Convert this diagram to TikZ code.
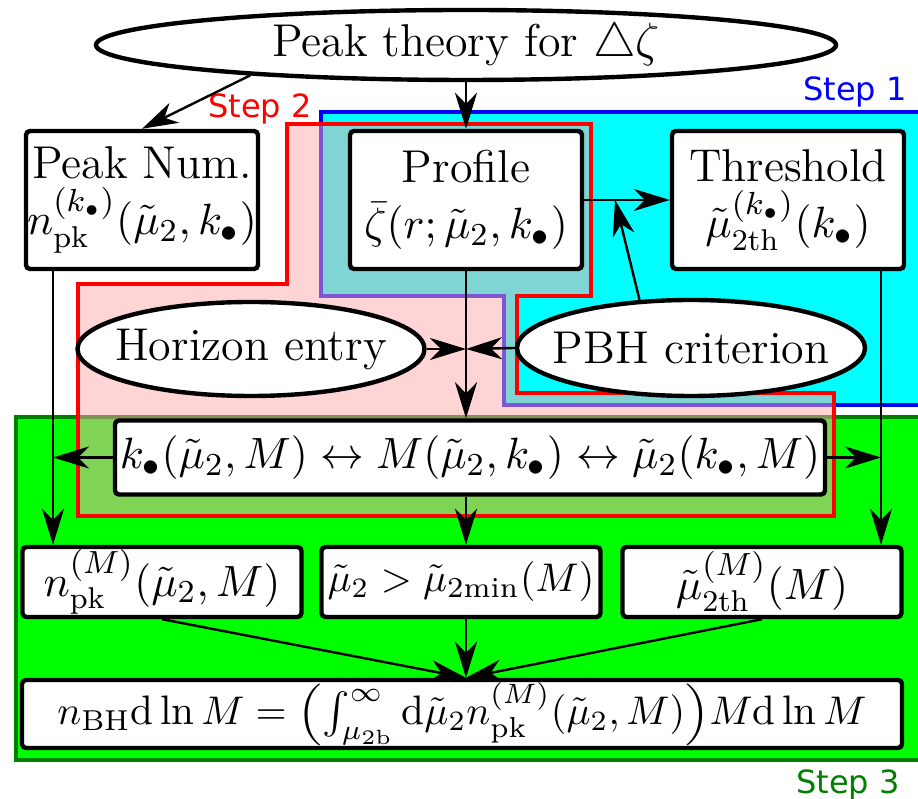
\documentclass[tikz,border=0pt]{standalone}
\usepackage{amsmath}
\usepackage{amsfonts}
\usepackage{graphicx}
\usepackage{fontspec}
\usepackage{tikz}
\usetikzlibrary{shapes.geometric, arrows.meta}
\newfontfamily\stepfont{DejaVu Sans}
\definecolor{StepCyan}{RGB}{0, 255, 255}
\definecolor{StepLime}{RGB}{0, 255, 0}
\definecolor{StepGreen}{RGB}{0, 128, 0}
\definecolor{StepPink}{RGB}{255, 170, 170}
\newcommand{\fml}[2][10.75]{{\fontsize{#1}{13}\selectfont$#2$}}
\newcommand{\midparen}[1]{\vcenter{\hbox{\scalebox{1}[0.83]{$\Big#1$}}}}

\tikzset{
  box/.style={draw, line width=1.1pt, rounded corners=1pt, fill=white, align=center, inner sep=0pt},
  topbox/.style={box, minimum width=58pt, minimum height=34.5pt},
  rowbox/.style={box, minimum width=69.75pt, minimum height=17.5pt},
  oval/.style={ellipse, draw, line width=1.1pt, fill=white, inner xsep=-4pt, inner ysep=0pt},
  link/.style={line width=0.6pt, -{Stealth[length=9pt, width=5.5pt, inset=2.75pt]}},
  steplabel/.style={font=\stepfont\fontsize{8}{10}\selectfont}
}

\begin{document}
\begin{tikzpicture}[x=0.25pt, y=-0.25pt, font=\fontsize{11.5}{14}\selectfont]
  \useasboundingbox (0,0) rectangle (918,799);
  \clip (0,0) rectangle (918,799);
  % the three steps
  \draw[blue, line width=0.8pt, fill=StepCyan] (321,112) -- (930,112) -- (930,405) -- (504,405) -- (504,296) -- (321,296) -- cycle;
  \draw[StepGreen, line width=0.8pt, fill=StepLime] (16,417) rectangle (930,760);
  \draw[red, line width=0.8pt, fill=StepPink, fill opacity=0.5] (287,124) -- (591,124) -- (591,296) -- (517,296) -- (517,393) -- (834,393) -- (834,516) -- (78,516) -- (78,284) -- (287,284) -- cycle;
  \node[steplabel, blue] (s1) at (855,92) {Step 1};
  \node[steplabel, red] (s2) at (260,109) {Step 2};
  \node[steplabel, StepGreen] (s3) at (848,785) {Step 3};

  \node[oval, minimum width=185pt, minimum height=17.5pt] (theory) at (466,45) {Peak theory for $\triangle\zeta$};
  \node[topbox] (peaknum) at (142,200) {Peak Num.\\ \fml{n_{\mathrm{pk}}^{(k_\bullet)}(\tilde\mu_2, k_\bullet)}};
  \node[topbox] (profile) at (466,200) {Profile\\ \fml{\bar\zeta(r; \tilde\mu_2, k_\bullet)}};
  \node[topbox] (thresh) at (788,200) {Threshold\\ \fml{\tilde\mu_{\mathrm{2th}}^{(k_\bullet)}(k_\bullet)}};
  \node[oval, minimum width=86.75pt, minimum height=23.5pt] (horizon) at (251,349) {Horizon entry};
  \node[oval, minimum width=87pt, minimum height=24pt] (pbh) at (691,348) {PBH criterion};
  \node[box, minimum width=177.5pt, minimum height=18.5pt] (conv) at (470,457.5) {\fml{k_\bullet(\tilde\mu_2, M) \leftrightarrow M(\tilde\mu_2, k_\bullet) \leftrightarrow \tilde\mu_2(k_\bullet, M)}};
  \node[rowbox] (nM) at (162,582) {\fml{n_{\mathrm{pk}}^{(M)}(\tilde\mu_2, M)}};
  \node[rowbox] (mumin) at (461,582) {\fml[10.3]{\tilde\mu_2 > \tilde\mu_{\mathrm{2min}}(M)}};
  \node[rowbox] (muth) at (762,582) {\fml{\tilde\mu_{\mathrm{2th}}^{(M)}(M)}};
  \node[box, minimum width=220pt, minimum height=17pt] (nbh) at (462,714) {\fml[10.3]{n_{\mathrm{BH}} \mathrm{d}\ln M = \mathopen{\midparen(}\int_{\mu_{\mathrm{2b}}}^\infty \mathrm{d}\tilde\mu_2 n_{\mathrm{pk}}^{(M)}(\tilde\mu_2, M)\mathclose{\midparen)} M \mathrm{d}\ln M}};

  \coordinate (jn) at (466,349);
  \coordinate (tip) at (615,200);
  \coordinate (pl) at (53,269);
  \coordinate (tr) at (881,269);

  \draw[link] (theory.188) -- (peaknum.north);
  \draw[link] (theory.south) -- (profile.north);
  \draw[link] (profile.east) -- (thresh.west);
  \draw[link] (pbh.137) -- (tip);
  \draw[link] (horizon.east) -- (jn);
  \draw[link] (pbh.west) -- (jn);
  \draw[link] (profile.south) -- (profile.south |- conv.north);
  \draw[link] (pl) -- (pl |- nM.north);
  \draw[link] (tr) -- (tr |- muth.north);
  \draw[link] (conv.west) -- (conv.west -| pl);
  \draw[link] (conv.east) -- (conv.east -| tr);
  \draw[link] (conv.south -| profile) -- (mumin.north -| profile);
  \draw[link] (nM.south) -- (nbh.north -| profile);
  \draw[link] (mumin.south -| profile) -- (nbh.north -| profile);
  \draw[link] (muth.south) -- (nbh.north -| profile);
\end{tikzpicture}
\end{document}
